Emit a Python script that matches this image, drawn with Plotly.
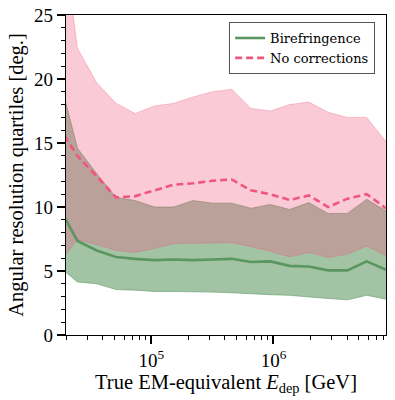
import plotly.graph_objects as go

# bin centres of the deposited-energy histogram [GeV]
energy = [17250, 24810, 35700, 51340, 73860, 106250, 152860, 219900, 316230,
          454900, 654400, 941400, 1354300, 1948200, 2802600, 4031700, 5800000, 8343800]

# Birefringence quartiles [deg]
bire_q25 = [5.4, 4.15, 4.0, 3.55, 3.5, 3.4, 3.4, 3.4, 3.35, 3.3, 3.2, 3.15, 3.1, 2.95, 2.85, 2.75, 3.1, 2.8]
bire_q50 = [10.1, 7.35, 6.6, 6.1, 5.95, 5.85, 5.9, 5.85, 5.9, 5.95, 5.7, 5.75, 5.4, 5.35, 5.05, 5.05, 5.75, 5.1]
bire_q75 = [20.5, 14.6, 12.6, 10.75, 10.5, 10.0, 10.0, 10.5, 10.3, 10.3, 9.9, 10.2, 9.8, 10.35, 9.5, 9.5, 10.6, 9.7]

# No corrections quartiles [deg]
nocorr_q25 = [5.5, 7.45, 7.05, 6.6, 6.45, 6.75, 7.15, 7.15, 7.15, 7.2, 6.9, 6.55, 6.1, 6.45, 6.05, 6.3, 6.95, 6.2]
nocorr_q50 = [16.3, 14.0, 12.4, 10.75, 10.85, 11.3, 11.75, 11.85, 12.05, 12.15, 11.3, 11.0, 10.55, 10.9, 10.0, 10.65, 11.0, 9.9]
nocorr_q75 = [34.0, 22.4, 19.7, 18.1, 17.3, 17.9, 18.1, 18.6, 19.0, 19.2, 17.7, 17.5, 18.0, 18.2, 17.4, 17.0, 17.0, 15.1]

GREEN = "rgb(90,150,95)"
GREEN_FILL = "rgba(90,150,95,0.56)"
PINK = "rgb(240,85,125)"
PINK_FILL = "rgba(240,85,125,0.31)"
FONT = "Liberation Serif"

fig = go.Figure()

# bands
fig.add_trace(go.Scatter(x=energy, y=bire_q25, mode="lines", line=dict(color=GREEN_FILL, width=1),
                         showlegend=False, hoverinfo="skip"))
fig.add_trace(go.Scatter(x=energy, y=bire_q75, mode="lines", line=dict(color=GREEN_FILL, width=1),
                         fill="tonexty", fillcolor=GREEN_FILL, showlegend=False, hoverinfo="skip"))
fig.add_trace(go.Scatter(x=energy, y=nocorr_q25, mode="lines", line=dict(color=PINK_FILL, width=1),
                         showlegend=False, hoverinfo="skip"))
fig.add_trace(go.Scatter(x=energy, y=nocorr_q75, mode="lines", line=dict(color=PINK_FILL, width=1),
                         fill="tonexty", fillcolor=PINK_FILL, showlegend=False, hoverinfo="skip"))

# medians
fig.add_trace(go.Scatter(x=energy, y=bire_q50, mode="lines", name="Birefringence",
                         line=dict(color=GREEN, width=2.6)))
fig.add_trace(go.Scatter(x=energy, y=nocorr_q50, mode="lines", name="No corrections",
                         line=dict(color=PINK, width=2.6, dash="7px,4px")))

minor_x = [m * 10 ** d for d in (4, 5, 6) for m in range(2, 10)]

fig.update_xaxes(
    type="log", range=[4.30103, 6.92137], automargin=False,
    tickvals=[1e5, 1e6], ticktext=["10<sup>5</sup>", "10<sup>6</sup>"],
    ticks="outside", ticklen=8, tickwidth=1.5, tickcolor="black",
    minor=dict(tickvals=minor_x, ticks="outside", ticklen=4, tickwidth=1.2, tickcolor="black"),
    showline=True, linecolor="black", linewidth=1.3, mirror=True,
    showgrid=False, zeroline=False,
    tickfont=dict(family=FONT, size=19, color="black"),
    title=dict(text="True EM-equivalent <i>E</i><sub>dep</sub> [GeV]",
               font=dict(family=FONT, size=20.5, color="black"), standoff=4),
)
fig.update_yaxes(
    range=[0, 25], dtick=5, tick0=0, automargin=False,
    ticks="outside", ticklen=8, tickwidth=1.5, tickcolor="black",
    minor=dict(dtick=1, ticks="outside", ticklen=4, tickwidth=1.2, tickcolor="black"),
    showline=True, linecolor="black", linewidth=1.3, mirror=True,
    showgrid=False, zeroline=False,
    tickfont=dict(family=FONT, size=19, color="black"),
    title=dict(text="Angular resolution quartiles [deg.]",
               font=dict(family=FONT, size=20.5, color="black"), standoff=4),
)

fig.update_layout(
    width=395, height=400,
    margin=dict(l=66, r=9, t=15, b=65),
    paper_bgcolor="white", plot_bgcolor="white",
    font=dict(family=FONT, color="black"),
    legend=dict(x=0.966, y=0.978, xanchor="right", yanchor="top",
                bgcolor="white", bordercolor="#555", borderwidth=1,
                font=dict(family="DejaVu Serif", size=13, color="black"),
                traceorder="normal", tracegroupgap=0, itemwidth=30),
)

# drop the default page margin so the figure sits at the window's corner
fig.write_html("out.html", config={"displayModeBar": False},
               post_script="document.body.style.margin='0';")
